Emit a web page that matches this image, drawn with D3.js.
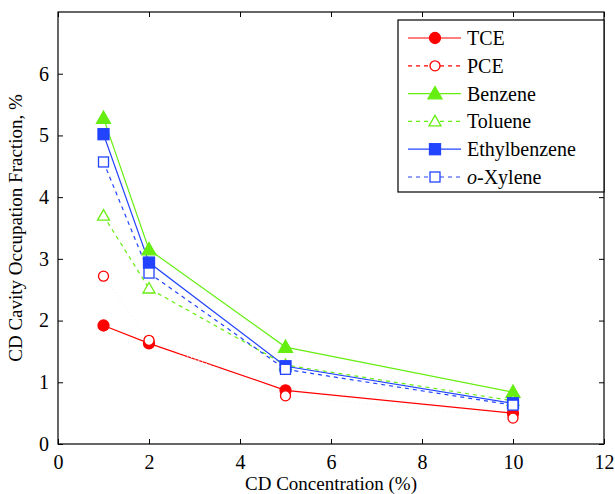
<!DOCTYPE html>
<html><head><meta charset="utf-8">
<script src="https://cdn.jsdelivr.net/npm/d3@7"></script>
<style>body{margin:0;background:#fff}svg{display:block}</style>
</head><body><svg id="c" width="615" height="494" font-family="Liberation Serif, Times New Roman, serif"></svg>
<script>
const concentrations = [1, 2, 5, 10];
const tce = [1.92, 1.63, 0.87, 0.50];
const pce = [2.72, 1.68, 0.78, 0.42];
const benzene = [5.28, 3.15, 1.57, 0.84];
const toluene = [3.70, 2.52, 1.28, 0.70];
const ethylbenzene = [5.02, 2.94, 1.26, 0.66];
const oxylene = [4.57, 2.77, 1.21, 0.63];
const xTicks = [0, 2, 4, 6, 8, 10, 12];
const yTicks = [0, 1, 2, 3, 4, 5, 6];
const seriesNames = ["TCE", "PCE", "Benzene", "Toluene", "Ethylbenzene", "o-Xylene"];

const RED = "#ff0000", GREEN = "#66ee11", BLUE = "#2244ff";
const series = [
  {name: "TCE", vals: tce, color: RED, dash: null, marker: "circle", fill: true},
  {name: "PCE", vals: pce, color: RED, dash: "4,4", marker: "circle", fill: false, faint: true},
  {name: "Benzene", vals: benzene, color: GREEN, dash: null, marker: "triangle", fill: true},
  {name: "Toluene", vals: toluene, color: GREEN, dash: "4,4", marker: "triangle", fill: false},
  {name: "Ethylbenzene", vals: ethylbenzene, color: BLUE, dash: null, marker: "square", fill: true},
  {name: "o-Xylene", vals: oxylene, color: BLUE, dash: "4,4", marker: "square", fill: false}
];

const svg = d3.select("#c");
const L = 58, R = 604, T = 12, B = 444;
const x = d3.scaleLinear().domain([0, 12]).range([L, R]);
const y = d3.scaleLinear().domain([0, 7]).range([B, T]);
const fmt = d3.format("d");

const fs = 20;
const xa = svg.append("g").attr("transform", `translate(0,${B})`)
  .call(d3.axisBottom(x).tickValues(xTicks).tickFormat(fmt).tickSizeInner(-5).tickSizeOuter(0).tickPadding(10));
const xa2 = svg.append("g").attr("transform", `translate(0,${T})`)
  .call(d3.axisTop(x).tickValues(xTicks).tickSizeInner(-5).tickSizeOuter(0).tickFormat(""));
const ya = svg.append("g").attr("transform", `translate(${L},0)`)
  .call(d3.axisLeft(y).tickValues(yTicks).tickFormat(fmt).tickSizeInner(-5).tickSizeOuter(0).tickPadding(9));
const ya2 = svg.append("g").attr("transform", `translate(${R},0)`)
  .call(d3.axisRight(y).tickValues(yTicks).tickSizeInner(-5).tickSizeOuter(0).tickFormat(""));
[xa, xa2, ya, ya2].forEach(g => {
  g.attr("font-family", null);
  g.select(".domain").remove();
  g.selectAll(".tick line").attr("stroke", "#000").attr("stroke-width", 1);
  g.selectAll("text").attr("font-size", fs).attr("fill", "#000");
});
xa.selectAll("text").attr("dy", "0.75em");
svg.append("rect").attr("x", L).attr("y", T).attr("width", R - L).attr("height", B - T)
  .attr("fill", "none").attr("stroke", "#000").attr("stroke-width", 1.2);

svg.append("text").attr("x", (L + R) / 2).attr("y", 490).attr("text-anchor", "middle")
  .attr("font-size", 19).text("CD Concentration (%)");
svg.append("text").attr("transform", `translate(22,${(T + B) / 2}) rotate(-90)`)
  .attr("text-anchor", "middle").attr("font-size", 19).text("CD Cavity Occupation Fraction, %");

function drawMarker(g, m, cx, cy, color, fill) {
  if (m === "circle") {
    g.append("circle").attr("cx", cx).attr("cy", cy).attr("r", fill ? 5.5 : 5)
      .attr("fill", fill ? color : "#fff").attr("stroke", color).attr("stroke-width", 1.3);
  } else if (m === "triangle") {
    const s = fill ? 7 : 6;
    g.append("path").attr("d", `M${cx},${cy - s}L${cx + s},${cy + s * 0.75}L${cx - s},${cy + s * 0.75}Z`)
      .attr("fill", fill ? color : "#fff").attr("stroke", color).attr("stroke-width", 1.3);
  } else {
    const s = fill ? 5.5 : 5;
    g.append("rect").attr("x", cx - s).attr("y", cy - s).attr("width", 2 * s).attr("height", 2 * s)
      .attr("fill", fill ? color : "#fff").attr("stroke", color).attr("stroke-width", 1.3);
  }
}

const line = d3.line().x(d => x(d[0])).y(d => y(d[1]));
const plot = svg.append("g");
series.forEach(s => {
  const pts = concentrations.map((c, i) => [c, s.vals[i]]);
  plot.append("path").attr("d", line(pts)).attr("fill", "none")
    .attr("stroke", s.faint ? "#f2f2f2" : s.color)
    .attr("stroke-width", 1.2).attr("stroke-dasharray", s.faint ? "1,3" : s.dash);
});
series.forEach(s => {
  concentrations.forEach((c, i) => drawMarker(plot, s.marker, x(c), y(s.vals[i]), s.color, s.fill));
});

const lg = svg.append("g");
lg.append("rect").attr("x", 398).attr("y", 20).attr("width", 206).attr("height", 172)
  .attr("fill", "#fff").attr("stroke", "#000").attr("stroke-width", 1.2);
series.forEach((s, i) => {
  const yy = 38 + i * 27.8;
  lg.append("line").attr("x1", 408).attr("x2", 461).attr("y1", yy).attr("y2", yy)
    .attr("stroke", s.color).attr("stroke-width", 1.2).attr("stroke-dasharray", s.dash ? "4,4" : null);
  drawMarker(lg, s.marker, 435, yy, s.color, s.fill);
  const t = lg.append("text").attr("x", 467).attr("y", yy + 7).attr("font-size", 20);
  if (s.name === "o-Xylene") {
    t.append("tspan").attr("font-style", "italic").text("o");
    t.append("tspan").text("-Xylene");
  } else t.text(seriesNames[i]);
});
</script></body></html>
